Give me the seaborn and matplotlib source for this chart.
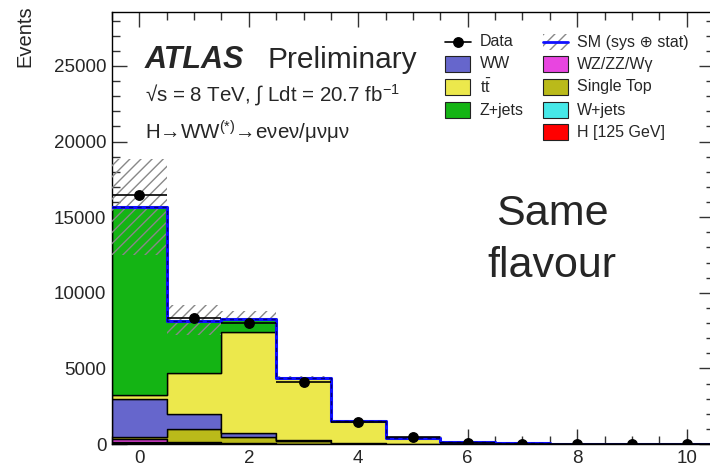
import numpy as np
import pandas as pd
import matplotlib
matplotlib.use("Agg")
import matplotlib.pyplot as plt
import seaborn as sns
from matplotlib.patches import Rectangle
from matplotlib.lines import Line2D
from matplotlib.ticker import MultipleLocator

# ---------------- data ----------------
bins = list(range(11))
data = [16500, 8320, 8000, 4100, 1480, 480, 90, 25, 10, 6, 4]
h125 = [40, 20, 10, 5, 2, 0, 0, 0, 0, 0, 0]
wjets = [110, 20, 10, 5, 2, 1, 0, 0, 0, 0, 0]
wzzz = [150, 70, 20, 10, 5, 2, 1, 0, 0, 0, 0]
single_top = [160, 880, 440, 200, 50, 25, 5, 2, 1, 0, 0]
ww = [2520, 1000, 270, 40, 15, 5, 2, 1, 0, 0, 0]
ttbar = [270, 2710, 6650, 4080, 1450, 340, 100, 40, 18, 9, 5]
zjets = [12450, 3450, 880, 30, 16, 2, 2, 2, 1, 1, 0]
sm_low = [12500, 7200, 8200, 4300, 1490, 350, 100, 40, 17, 8, 4]
sm_high = [18870, 9200, 8800, 4500, 1600, 410, 125, 52, 24, 12, 6]

processes = ["Z+jets", "ttbar", "WW", "Single Top", "WZ/ZZ/Wgamma", "W+jets", "H"]
values = [zjets, ttbar, ww, single_top, wzzz, wjets, h125]
colors = {"Z+jets": "#14B414", "ttbar": "#ECE84C", "WW": "#6666CC",
          "Single Top": "#BABA1A", "WZ/ZZ/Wgamma": "#E845E0",
          "W+jets": "#46E8E8", "H": "#FF0000"}

rows = []
for p, v in zip(processes, values):
    for b, w in zip(bins, v):
        rows.append({"bin": b, "w": w, "proc": p})
df = pd.DataFrame(rows)
sm_total = np.sum(np.array(values), axis=0)

# ---------------- style ----------------
sns.set_style("ticks")
plt.rcParams["font.family"] = ["Liberation Sans", "DejaVu Sans"]
plt.rcParams["mathtext.fontset"] = "custom"
plt.rcParams["mathtext.rm"] = "Liberation Sans"
plt.rcParams["mathtext.it"] = "Liberation Sans:italic"
plt.rcParams["hatch.linewidth"] = 1.0

W, H = 710, 469
fig = plt.figure(figsize=(W / 100, H / 100), dpi=100)
fig.patch.set_facecolor("white")
ax = fig.add_axes([112 / W, 1 - 444 / H, (714 - 112) / W, (444 - 12) / H])

sns.histplot(data=df, x="bin", weights="w", hue="proc", hue_order=processes,
             palette=colors, multiple="stack", element="step", discrete=True,
             fill=True, alpha=1, edgecolor="black", linewidth=1.0,
             legend=False, ax=ax)

# uncertainty band
ax.bar(bins, np.array(sm_high) - np.array(sm_low), bottom=sm_low, width=1.0,
       facecolor="none", edgecolor="#888888", hatch="///", linewidth=0, zorder=5)

# SM total outline (blue with dark dashes)
sns.histplot(x=bins, weights=sm_total, discrete=True, element="step", fill=False,
             color="#1010FF", linewidth=2.2, ax=ax, zorder=6)
sns.histplot(x=bins, weights=sm_total, discrete=True, element="step", fill=False,
             color="#000080", linewidth=1.0, linestyle=(0, (3, 3)), ax=ax, zorder=6.5)

# data
ax.errorbar(bins, data, xerr=0.5, fmt="o", color="black", ms=6.8,
            elinewidth=1.2, capsize=0, zorder=8)

ax.set_xlim(-0.5, 10.5)
ax.set_ylim(0, 28570)
ax.set_xlabel("")
ax.set_ylabel("")
ax.xaxis.set_major_locator(MultipleLocator(2))
ax.xaxis.set_minor_locator(MultipleLocator(0.5))
ax.yaxis.set_major_locator(MultipleLocator(5000))
ax.yaxis.set_minor_locator(MultipleLocator(1000))
ax.tick_params(which="both", direction="in", top=True, right=True,
               labelsize=13.5, width=1, color="#333333")
ax.tick_params(which="major", length=11, pad=4)
ax.tick_params(which="minor", length=5.5)
for s in ax.spines.values():
    s.set_linewidth(1.0)
    s.set_color("black")


def fx(x):
    return x / W


def fy(y):
    return 1 - y / H


fig.text(fx(25), fy(5), "Events", rotation=90, ha="center", va="top", fontsize=14.5)

fig.text(fx(145), fy(68), "ATLAS", fontsize=22, fontweight="bold", style="italic",
         va="baseline")
fig.text(fx(268), fy(68), "Preliminary", fontsize=21.5, va="baseline")
fig.text(fx(145), fy(101), "\u221as = 8 TeV, \u222b Ldt = 20.7 fb$^{-1}$",
         fontsize=14.8, va="baseline")
fig.text(fx(145), fy(140), "H\u2192WW$^{(*)}$\u2192e\u03bde\u03bd/\u03bc\u03bd\u03bc\u03bd",
         fontsize=14.8, va="baseline")

fig.text(fx(552), fy(225), "Same", fontsize=31, ha="center", va="baseline")
fig.text(fx(552), fy(277), "flavour", fontsize=31, ha="center", va="baseline")

# legend (manual)
leg_fs = 11.5
sw, sh = 25, 16


def swatch(x0, yc, color):
    fig.patches.append(Rectangle((fx(x0), fy(yc + sh / 2)), sw / W, sh / H,
                                 transform=fig.transFigure, facecolor=color,
                                 edgecolor="#222222", linewidth=0.8))


# Data entry
fig.lines.append(Line2D([fx(445), fx(471)], [fy(42), fy(42)], color="black",
                        lw=1.2, transform=fig.transFigure))
fig.lines.append(Line2D([fx(458)], [fy(42)], marker="o", ms=6.8, color="black",
                        transform=fig.transFigure))
fig.text(fx(480), fy(42), "Data", fontsize=leg_fs, va="center")
col1 = [("WW", "WW", 64), ("ttbar", "t$\\bar{\\mathrm{t}}$", 87), ("Z+jets", "Z+jets", 110)]
for key, lab, yc in col1:
    swatch(445, yc, colors[key])
    fig.text(fx(480), fy(yc), lab, fontsize=leg_fs, va="center")

# SM entry
fig.patches.append(Rectangle((fx(543), fy(42 + sh / 2)), sw / W, sh / H,
                             transform=fig.transFigure, facecolor="none",
                             edgecolor="#888888", hatch="///", linewidth=0))
fig.lines.append(Line2D([fx(543), fx(568)], [fy(42), fy(42)], color="#1010FF",
                        lw=2, transform=fig.transFigure))
fig.text(fx(577), fy(42), "SM (sys \u2295 stat)", fontsize=leg_fs, va="center")
col2 = [("WZ/ZZ/Wgamma", "WZ/ZZ/W\u03b3", 64), ("Single Top", "Single Top", 87),
        ("W+jets", "W+jets", 110), ("H", "H [125 GeV]", 132)]
for key, lab, yc in col2:
    swatch(543, yc, colors[key])
    fig.text(fx(577), fy(yc), lab, fontsize=leg_fs, va="center")

fig.savefig("out.png", dpi=100)
